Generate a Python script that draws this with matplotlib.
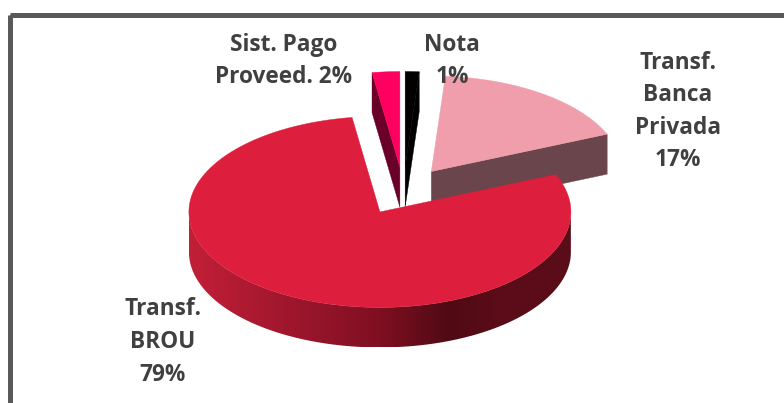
import numpy as np
import matplotlib
matplotlib.use("Agg")
import matplotlib.pyplot as plt
from matplotlib.colors import LinearSegmentedColormap
from matplotlib.patches import Polygon, Rectangle

categories = ["Nota", "Transf.\nBanca\nPrivada", "Transf.\nBROU", "Sist. Pago\nProveed."]
shares = [1.17, 17.44, 79.06, 2.33]
shown_pct = [1, 17, 79, 2]
top_colors = ["#000000", "#f09dac", "#dd1e3c", "#ff0060"]
side_colors = ["#000000", "#6a454b", "#5a0c18", "#6a0028"]

# pie geometry, in pixels of the picture
cx, cy = 403.4, 191
rx, ry = 191, 95.5
depth = 40
explode = 48


def point(ang, r, ox, oy):
    return ox + r * np.sin(ang), oy - r * np.cos(ang) * ry / rx


fig = plt.figure(figsize=(7.84, 4.03), dpi=100)
ax = fig.add_axes([0, 0, 1, 1])
ax.set_xlim(0, 784)
ax.set_ylim(403, 0)
ax.axis("off")

ax.add_patch(Rectangle((10.5, 14.5), 800, 420, fill=False, edgecolor="#595959", linewidth=3.6))

fracs = np.array(shares) / sum(shares) * 2 * np.pi
starts = np.concatenate([[0], np.cumsum(fracs)[:-1]])

wall_cmap = LinearSegmentedColormap.from_list(
    "wall", [(0, "#c21f38"), (0.5, "#7f0f22"), (0.68, "#500a14"), (0.8, "#5a0c18"), (1, "#5a0c18")])

# back slices first, the big one last so it covers their walls
for i in [1, 3, 0, 2]:
    a0, a1 = starts[i], starts[i] + fracs[i]
    mid = (a0 + a1) / 2
    ox, oy = point(mid, explode, cx, cy)
    ang = np.linspace(a0, a1, 200)
    xs, ys = point(ang, rx, ox, oy)

    # cut faces, only those turned towards the viewer
    for edge, normal in [(a0, a0 - np.pi / 2), (a1, a1 + np.pi / 2)]:
        if np.cos(normal) < 0:
            ex, ey = point(edge, rx, ox, oy)
            ax.add_patch(Polygon([(ox, oy), (ex, ey), (ex, ey + depth), (ox, oy + depth)],
                                 facecolor=side_colors[i], edgecolor=side_colors[i], linewidth=0.3,
                                 zorder=2 + i * 0.1))

    # outer wall, front half of the rim
    front = ang[(ang > np.pi / 2) & (ang < 3 * np.pi / 2)]
    if len(front) > 0:
        fx, fy = point(front, rx, ox, oy)
        wall = np.column_stack([np.r_[fx, fx[::-1]], np.r_[fy, fy[::-1] + depth]])
        clip = Polygon(wall, transform=ax.transData, facecolor="none", edgecolor="none")
        ax.add_patch(clip)
        im = ax.imshow(np.linspace(0, 1, 256).reshape(1, -1), cmap=wall_cmap, aspect="auto",
                       extent=[fx.min(), fx.max(), fy.max() + depth, fy.min()], zorder=2 + i * 0.1)
        im.set_clip_path(clip)

    top = np.column_stack([np.r_[ox, xs], np.r_[oy, ys]])
    ax.add_patch(Polygon(top, facecolor=top_colors[i], edgecolor=top_colors[i], linewidth=0.3,
                         zorder=2.5 + i * 0.1))

ax.set_xlim(0, 784)
ax.set_ylim(403, 0)

label_pos = [(452, 61), (678, 111.5), (163, 342), (284, 61)]
for name, pct, (lx, ly) in zip(categories, shown_pct, label_pos):
    sep = " " if "Sist" in name else "\n"
    ax.text(lx, ly, f"{name}{sep}{pct}%", ha="center", va="center", family="Open Sans", fontweight="bold",
            fontsize=16.3, color="#404040", linespacing=1.476, zorder=5)

fig.savefig("out.png", dpi=100)
